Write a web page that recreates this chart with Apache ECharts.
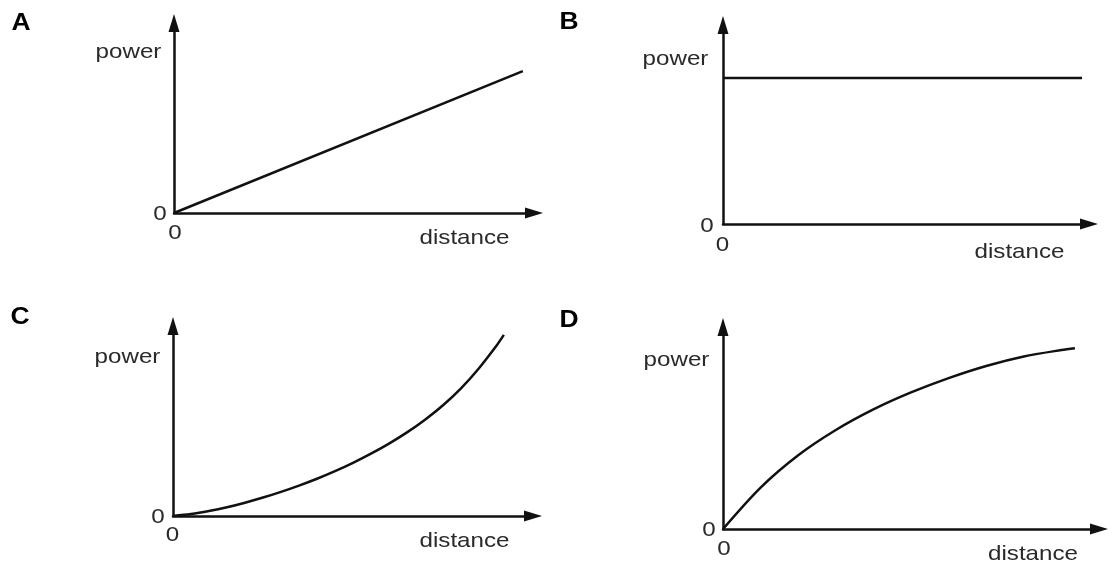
<!DOCTYPE html>
<html>
<head>
<meta charset="utf-8">
<script src="https://cdn.jsdelivr.net/npm/echarts@6/dist/echarts.min.js"></script>
<style>html,body{margin:0;padding:0;background:#fff;}#c{width:1115px;height:568px;}</style>
</head>
<body>
<div id="c"></div>
<script>
// Panel data (x: distance, y: power), axis range 0..10 in each panel
const panelLetters = ['A', 'B', 'C', 'D'];
const axisNameX = 'distance';
const axisNameY = 'power';
const zeroLabel = '0';
const seriesA = [[0, 0], [9.69, 7.47]];
const seriesB = [[0, 7.34], [9.81, 7.34]];
const seriesC = [[0, 0], [0.5, 0.1], [1, 0.26], [1.5, 0.46], [2, 0.7], [2.5, 0.97], [3, 1.27], [3.5, 1.6], [4, 1.96], [4.5, 2.36], [5, 2.8], [5.5, 3.28], [6, 3.81], [6.5, 4.4], [7, 5.07], [7.5, 5.83], [8, 6.72], [8.5, 7.78], [9, 9.0], [9.19, 9.53]];
const seriesD = [[0, 0], [1, 2.05], [2, 3.65], [3, 4.9], [4, 5.92], [5, 6.76], [6, 7.47], [7, 8.07], [8, 8.54], [9, 8.86], [9.36, 8.95]];

const allSeries = [seriesA, seriesB, seriesC, seriesD];

const grids = [
  {left: 174, top: 23, width: 360, height: 190},
  {left: 723, top: 25, width: 366, height: 199},
  {left: 173, top: 326, width: 360, height: 190},
  {left: 723, top: 327, width: 376, height: 202}
];

const lineColor = '#111';
const textColor = '#2a2a2a';
const fontFam = '"Liberation Sans", Arial, sans-serif';

function axisCommon() {
  return {
    type: 'value', min: 0, max: 10,
    axisLine: {show: true, onZero: false, symbol: ['none', 'triangle'], symbolSize: [11, 18],
      lineStyle: {color: lineColor, width: 2.5}},
    axisTick: {show: false}, axisLabel: {show: false}, splitLine: {show: false}
  };
}

const labelPos = [
  {letter: [21, 23.5], power: [128.5, 52], y0: [160, 214], x0: [175, 233], dist: [464.5, 238]},
  {letter: [569, 22.5], power: [675.5, 59], y0: [707, 226], x0: [722.5, 245], dist: [1019.5, 252]},
  {letter: [20, 318], power: [127.5, 357], y0: [158, 517], x0: [172.5, 535], dist: [464.5, 541]},
  {letter: [569, 321], power: [676.5, 360], y0: [709, 530], x0: [724, 549], dist: [1033, 554]}
];

function txt(s, p, size, bold, color) {
  return {type: 'text', x: p[0], y: p[1], scaleX: 1.15, z: 10,
    style: {text: s, x: 0, y: 0, textAlign: 'center', textVerticalAlign: 'middle',
      font: (bold ? 'bold ' : '') + size + 'px ' + fontFam, fill: color}};
}

const graphics = [];
labelPos.forEach((lp, i) => {
  graphics.push(txt(panelLetters[i], lp.letter, 23, true, '#000'));
  graphics.push(txt(axisNameY, lp.power, 21, false, textColor));
  graphics.push(txt(zeroLabel, lp.y0, 21, false, textColor));
  graphics.push(txt(zeroLabel, lp.x0, 21, false, textColor));
  graphics.push(txt(axisNameX, lp.dist, 21, false, textColor));
});

const option = {
  backgroundColor: '#fff',
  animation: false,
  grid: grids,
  xAxis: grids.map((g, i) => Object.assign(axisCommon(), {gridIndex: i})),
  yAxis: grids.map((g, i) => Object.assign(axisCommon(), {gridIndex: i})),
  series: allSeries.map((d, i) => ({
    type: 'line', xAxisIndex: i, yAxisIndex: i, data: d,
    smooth: i >= 2 ? 0.3 : false, showSymbol: false, silent: true,
    lineStyle: {color: lineColor, width: 2.5}
  })),
  graphic: graphics
};

const chart = echarts.init(document.getElementById('c'), null, {renderer: 'canvas'});
chart.setOption(option);
</script>
</body>
</html>
